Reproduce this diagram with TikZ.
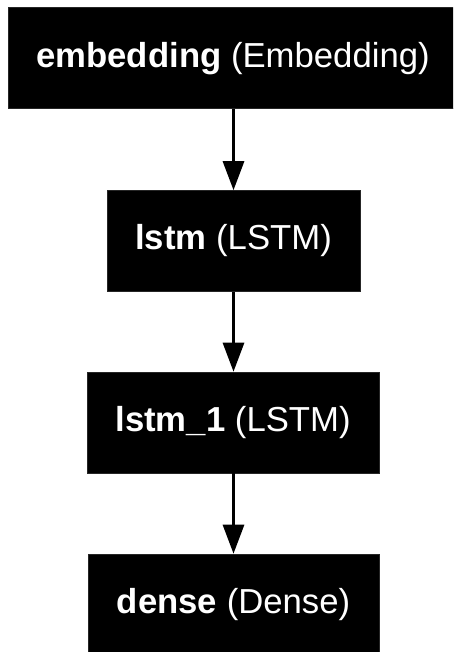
\documentclass[tikz,border=0pt]{standalone}
\usepackage{fontspec}
\setmainfont{Liberation Sans}
\usetikzlibrary{arrows.meta}
\begin{document}
\begin{tikzpicture}[x=1pt,y=1pt,
  layerbox/.style={fill=black,draw=black!85,line width=0.6pt,inner sep=0pt,
    minimum height=101pt,text=white,font=\fontsize{34.7}{40}\selectfont},
  flow/.style={draw=black,line width=3pt,-{Triangle[width=21pt,length=29pt]}}]
\useasboundingbox (0,0) rectangle (453,-652);
\clip (0,0) rectangle (453,-652);
\node[layerbox,minimum width=450pt] (emb) at (233,-58.25) {\textbf{embedding} (Embedding)};
\node[layerbox,minimum width=253pt] (lstm) at (233.5,-241) {\textbf{lstm} (LSTM)};
\node[layerbox,minimum width=292pt] (lstm1) at (233,-422.5) {\textbf{lstm\_1} (LSTM)};
\node[layerbox,minimum width=291pt] (dense) at (233.5,-604.5) {\textbf{dense} (Dense)};
\draw[flow] (emb.south -| lstm.north) -- (lstm.north);
\draw[flow] (lstm.south) -- (lstm.south |- lstm1.north);
\draw[flow] (lstm1.south -| dense.north) -- (dense.north);
\end{tikzpicture}
\end{document}
